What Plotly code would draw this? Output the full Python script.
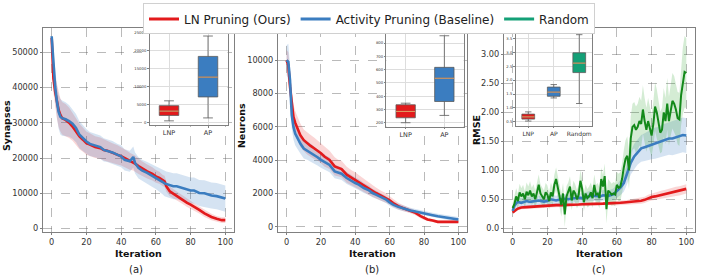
import plotly.graph_objects as go

W, H = 706, 278
FONT = "DejaVu Sans"

# ---------------- data ----------------
# (a) Synapses
a_iter = [0, 1, 2, 3, 4, 5, 6, 8, 10, 12, 14, 16, 18, 20, 22, 25, 28, 30, 32, 35, 38, 40, 42, 45, 47, 48,
          50, 52, 55, 58, 60, 62, 64, 65, 66, 68, 70, 72, 75, 78, 80, 82, 85, 88, 90, 92, 95, 98, 100]
a_ln = [54000, 42500, 38800, 36000, 33600, 32200, 31300, 30800, 30000, 28900, 27500, 26100, 25200, 24200,
        23800, 23100, 22800, 22300, 22100, 21400, 20900, 20500, 20000, 19100, 18800, 18400, 17700, 17000,
        16200, 15500, 14800, 14400, 13600, 13400, 12000, 10600, 9900, 9200, 8300, 7300, 6800, 6100, 5300,
        4300, 3800, 3300, 2800, 2400, 2400]
a_ln_sd = [1500, 4000, 4500, 4800, 4800, 4700, 4600, 4500, 4300, 4000, 3800, 3600, 3400, 3300, 3200, 3100,
           3000, 3000, 2900, 2800, 2700, 2600, 2500, 2400, 2300, 2300, 2200, 2100, 2000, 1900, 1800, 1700,
           1600, 1600, 1500, 1400, 1300, 1300, 1200, 1200, 1100, 1100, 1000, 1000, 900, 900, 800, 800, 800]
a_ap = [54500, 46800, 40200, 36000, 33100, 31700, 31300, 31000, 30500, 29700, 28500, 26600, 25600, 24700,
        24000, 23500, 23100, 22300, 22100, 21600, 20900, 20500, 19500, 19100, 20300, 18600, 17200, 16500,
        15800, 15000, 14500, 13900, 13200, 12800, 12600, 12300, 12000, 12000, 11500, 11100, 10800, 10800,
        10100, 10000, 9600, 9400, 9200, 8800, 8500]
a_ap_sd = [1000, 3000, 4000, 4500, 4800, 5000, 5000, 4800, 4500, 4200, 4000, 3800, 3600, 3500, 3400, 3300,
           3300, 3300, 3200, 3200, 3100, 3100, 3000, 3000, 3000, 3000, 3000, 3000, 3100, 3200, 3300, 3400,
           3500, 3600, 3600, 3700, 3700, 3700, 3700, 3700, 3700, 3700, 3700, 3700, 3700, 3700, 3700, 3700, 3700]

# (b) Neurons
b_iter = [0, 1, 2, 3, 4, 5, 6, 8, 10, 12, 14, 16, 18, 20, 22, 25, 28, 30, 32, 35, 38, 40, 42, 45, 48, 50,
          52, 55, 58, 60, 62, 65, 68, 70, 72, 75, 78, 80, 82, 85, 88, 90, 92, 95, 98, 100]
b_ln = [10000, 9700, 8400, 7300, 6600, 6250, 6000, 5500, 5200, 5000, 4860, 4720, 4580, 4420, 4220, 4020,
        3630, 3530, 3470, 3130, 2930, 2830, 2690, 2490, 2270, 2130, 2030, 1870, 1730, 1590, 1430, 1240,
        1120, 1040, 960, 840, 640, 520, 440, 380, 300, 300, 300, 300, 300, 300]
b_ln_sd = [600, 800, 800, 800, 750, 700, 700, 700, 650, 650, 650, 650, 600, 600, 600, 550, 550, 500, 500,
           480, 450, 450, 420, 400, 380, 350, 330, 300, 280, 250, 230, 200, 180, 160, 150, 140, 120, 110,
           100, 90, 80, 80, 80, 80, 80, 80]
b_ap = [10000, 9900, 8800, 6700, 6000, 5600, 5400, 5000, 4700, 4580, 4460, 4320, 4180, 4020, 3880, 3720,
        3330, 3270, 3190, 2930, 2730, 2630, 2530, 2330, 2190, 2030, 1930, 1790, 1630, 1470, 1330, 1200,
        1100, 1040, 980, 920, 840, 800, 760, 700, 640, 600, 560, 520, 480, 440]
b_ap_sd = [900, 1100, 900, 800, 750, 700, 650, 600, 600, 550, 550, 500, 500, 480, 460, 440, 420, 400, 380,
           360, 340, 330, 320, 300, 280, 260, 250, 230, 210, 200, 190, 180, 170, 160, 160, 150, 150, 150,
           150, 150, 150, 150, 150, 150, 150, 150]

# (c) RMSE
c_iter_s = [0, 1, 2, 3, 5, 8, 10, 12, 15, 18, 20, 22, 25, 28, 30, 32, 35, 38, 40, 42, 45, 48, 50, 52, 55,
            58, 60, 62, 64, 66, 68, 70, 72, 74, 76, 78, 80, 82, 84, 86, 88, 90, 92, 94, 96, 98, 100]
c_ln = [0.27, 0.30, 0.32, 0.34, 0.36, 0.365, 0.37, 0.37, 0.375, 0.38, 0.385, 0.39, 0.40, 0.40, 0.40, 0.405,
        0.41, 0.41, 0.415, 0.415, 0.415, 0.42, 0.425, 0.425, 0.43, 0.43, 0.435, 0.44, 0.445, 0.45, 0.46,
        0.465, 0.47, 0.475, 0.49, 0.52, 0.54, 0.55, 0.565, 0.58, 0.595, 0.61, 0.62, 0.635, 0.645, 0.66, 0.68]
c_ln_sd = [0.02, 0.03, 0.03, 0.03, 0.03, 0.03, 0.03, 0.03, 0.03, 0.03, 0.03, 0.03, 0.03, 0.03, 0.03, 0.03,
           0.03, 0.03, 0.03, 0.03, 0.03, 0.03, 0.03, 0.03, 0.03, 0.035, 0.035, 0.035, 0.04, 0.04, 0.04, 0.045,
           0.05, 0.05, 0.055, 0.06, 0.06, 0.065, 0.065, 0.07, 0.07, 0.075, 0.075, 0.08, 0.08, 0.08, 0.08]
c_ap = [0.30, 0.39, 0.43, 0.455, 0.44, 0.47, 0.455, 0.47, 0.48, 0.46, 0.47, 0.50, 0.48, 0.50, 0.51, 0.50,
        0.52, 0.53, 0.52, 0.54, 0.56, 0.56, 0.545, 0.57, 0.56, 0.585, 0.64, 0.70, 0.78, 0.95, 1.13, 1.24,
        1.32, 1.38, 1.40, 1.42, 1.45, 1.47, 1.48, 1.51, 1.53, 1.55, 1.55, 1.57, 1.59, 1.61, 1.60]
c_ap_sd = [0.04, 0.07, 0.08, 0.08, 0.08, 0.08, 0.08, 0.08, 0.08, 0.08, 0.08, 0.08, 0.08, 0.08, 0.08, 0.08,
           0.08, 0.08, 0.08, 0.08, 0.09, 0.09, 0.09, 0.09, 0.09, 0.10, 0.11, 0.13, 0.15, 0.18, 0.20, 0.22,
           0.22, 0.23, 0.24, 0.25, 0.26, 0.27, 0.27, 0.28, 0.28, 0.28, 0.29, 0.29, 0.30, 0.30, 0.30]
c_iter = list(range(0, 101))
c_rand = [0.35, 0.42, 0.55, 0.47, 0.62, 0.55, 0.60, 0.50, 0.63, 0.57,
          0.65, 0.55, 0.60, 0.50, 0.62, 0.75, 0.60, 0.55, 0.50, 0.62,
          0.58, 0.47, 0.62, 0.55, 0.75, 0.85, 0.70, 0.55, 0.40, 0.60,
          0.24, 0.55, 0.62, 0.72, 0.48, 0.65, 0.60, 0.50, 0.58, 0.82,
          0.68, 0.45, 0.60, 0.52, 0.55, 0.62, 0.52, 0.75, 0.58, 0.60,
          0.52, 0.85, 0.72, 0.90, 0.33, 0.65, 0.62, 0.58, 0.60, 0.58,
          0.75, 0.70, 0.72, 0.85, 1.05, 1.20, 1.25, 1.00, 1.55, 1.75,
          1.78, 1.70, 1.75, 1.85, 1.80, 2.05, 1.85, 1.70, 1.85, 1.72,
          1.60, 1.80, 2.10, 2.00, 1.80, 1.65, 1.70, 2.00, 1.85, 2.15,
          1.85, 2.05, 2.20, 2.15, 2.05, 1.90, 1.88, 2.30, 2.55, 2.70, 2.68]
c_rand_sd = [0.08, 0.12, 0.14, 0.13, 0.15, 0.14, 0.15, 0.14, 0.16, 0.15,
             0.16, 0.15, 0.16, 0.15, 0.17, 0.18, 0.16, 0.15, 0.15, 0.16,
             0.16, 0.15, 0.17, 0.16, 0.18, 0.20, 0.18, 0.17, 0.20, 0.18,
             0.22, 0.18, 0.17, 0.18, 0.17, 0.17, 0.16, 0.16, 0.17, 0.18,
             0.17, 0.16, 0.16, 0.16, 0.17, 0.17, 0.17, 0.18, 0.17, 0.18,
             0.18, 0.20, 0.20, 0.22, 0.25, 0.20, 0.19, 0.19, 0.20, 0.20,
             0.22, 0.24, 0.25, 0.27, 0.30, 0.32, 0.34, 0.33, 0.38, 0.40,
             0.40, 0.40, 0.40, 0.42, 0.40, 0.42, 0.40, 0.38, 0.40, 0.38,
             0.36, 0.38, 0.42, 0.40, 0.38, 0.36, 0.38, 0.42, 0.40, 0.45,
             0.42, 0.45, 0.48, 0.48, 0.46, 0.45, 0.46, 0.52, 0.58, 0.62, 0.60]

# inset box statistics
a_box_names = ["LNP", "AP"]
a_box_lo = [460, 1280]
a_box_q1 = [1980, 7150]
a_box_med = [3180, 12690]
a_box_q3 = [4700, 18480]
a_box_hi = [6060, 24180]

b_box_names = ["LNP", "AP"]
b_box_lo = [200, 255]
b_box_q1 = [237, 360]
b_box_med = [285, 535]
b_box_q3 = [335, 617]
b_box_hi = [347, 855]

c_box_names = ["LNP", "AP", "Random"]
c_box_lo = [0.53, 1.36, 1.16]
c_box_q1 = [0.60, 1.42, 2.27]
c_box_med = [0.68, 1.57, 2.61]
c_box_q3 = [0.78, 1.75, 2.98]
c_box_hi = [0.86, 1.84, 3.63]

# ---------------- styles ----------------
RED = "#e31a1c"
BLUE = "#3b7dc0"
GREEN_LINE = "#13891a"
TEAL = "#14a077"
RED_BAND = "rgba(227,26,28,0.18)"
BLUE_BAND = "rgba(59,125,192,0.21)"
GREEN_BAND = "rgba(40,160,40,0.20)"

fig = go.Figure()


def band(x, m, sd, color, xa, ya):
    up = [v + s for v, s in zip(m, sd)]
    lo = [v - s for v, s in zip(m, sd)]
    fig.add_trace(go.Scatter(x=list(x) + list(x)[::-1], y=up + lo[::-1], fill="toself",
                             fillcolor=color, line=dict(width=0), mode="lines",
                             hoverinfo="skip", showlegend=False, xaxis=xa, yaxis=ya))


def line(x, y, color, xa, ya, width=2.6):
    fig.add_trace(go.Scatter(x=x, y=y, mode="lines", line=dict(color=color, width=width),
                             showlegend=False, xaxis=xa, yaxis=ya))


# (a)
band(a_iter, a_ln, a_ln_sd, RED_BAND, "x", "y")
band(a_iter, a_ap, a_ap_sd, BLUE_BAND, "x", "y")
line(a_iter, a_ln, RED, "x", "y")
line(a_iter, a_ap, BLUE, "x", "y")
# (b)
band(b_iter, b_ln, b_ln_sd, RED_BAND, "x2", "y2")
band(b_iter, b_ap, b_ap_sd, BLUE_BAND, "x2", "y2")
line(b_iter, b_ln, RED, "x2", "y2")
line(b_iter, b_ap, BLUE, "x2", "y2")
# (c)
band(c_iter_s, c_ln, c_ln_sd, RED_BAND, "x3", "y3")
band(c_iter_s, c_ap, c_ap_sd, BLUE_BAND, "x3", "y3")
band(c_iter, c_rand, c_rand_sd, GREEN_BAND, "x3", "y3")
line(c_iter_s, c_ln, RED, "x3", "y3")
line(c_iter_s, c_ap, BLUE, "x3", "y3")
line(c_iter, c_rand, GREEN_LINE, "x3", "y3", width=2.0)

# legend entries
for nm, col in [("LN Pruning (Ours)", RED), ("Activity Pruning (Baseline)", BLUE), ("Random", TEAL)]:
    fig.add_trace(go.Scatter(x=[None], y=[None], mode="lines", name=nm,
                             line=dict(color=col, width=3), xaxis="x", yaxis="y"))


def boxes(names, lo, q1, med, q3, hi, colors, xa, ya):
    for i, nm in enumerate(names):
        p = i + 1
        fig.add_trace(go.Box(x=[p], lowerfence=[lo[i]], q1=[q1[i]], median=[med[i]], q3=[q3[i]],
                             upperfence=[hi[i]], width=0.5, whiskerwidth=0.5, fillcolor=colors[i],
                             line=dict(color="#5a5a5a", width=0.8), boxpoints=False,
                             showlegend=False, xaxis=xa, yaxis=ya, hoverinfo="skip"))
        fig.add_trace(go.Scatter(x=[p - 0.25, p + 0.25], y=[med[i], med[i]], mode="lines",
                                 line=dict(color="#e7a062", width=1), showlegend=False,
                                 xaxis=xa, yaxis=ya, hoverinfo="skip"))


boxes(a_box_names, a_box_lo, a_box_q1, a_box_med, a_box_q3, a_box_hi, [RED, BLUE], "x4", "y4")
boxes(b_box_names, b_box_lo, b_box_q1, b_box_med, b_box_q3, b_box_hi, [RED, BLUE], "x5", "y5")
boxes(c_box_names, c_box_lo, c_box_q1, c_box_med, c_box_q3, c_box_hi, [RED, BLUE, TEAL], "x6", "y6")

# ---------------- layout ----------------
def px_x(a, b):
    return [a / W, b / W]


def px_y(top, bottom):
    return [1 - bottom / H, 1 - top / H]


MAIN_Y = px_y(27, 233)
main_common = dict(showline=True, linecolor="#808080", linewidth=1.2, mirror=True, ticks="outside",
                   ticklen=2, tickcolor="#808080", tickfont=dict(size=8.2, color="#333333", family=FONT),
                   showgrid=True, gridcolor="rgba(90,90,90,0.42)", griddash="dash", gridwidth=0.8,
                   zeroline=False)
inset_common = dict(showline=True, linecolor="#808080", linewidth=0.8, mirror=True, ticks="outside",
                    ticklen=1.5, tickcolor="#808080", showgrid=True, gridcolor="#dddddd",
                    gridwidth=0.6, zeroline=False)
tiny = dict(size=3.8, color="#333333", family=FONT)
small = dict(size=6.5, color="#333333", family=FONT)

xt = [0, 20, 40, 60, 80, 100]
fig.update_layout(
    width=W, height=H, margin=dict(l=0, r=0, t=0, b=0),
    paper_bgcolor="white", plot_bgcolor="white",
    font=dict(family=FONT, color="#333333"),
    xaxis=dict(domain=px_x(43, 234), range=[-5, 105], tickvals=xt, anchor="y", **main_common),
    yaxis=dict(domain=MAIN_Y, range=[-1050, 56900], tickvals=[0, 10000, 20000, 30000, 40000, 50000],
               tickformat="d", anchor="x", **main_common),
    xaxis2=dict(domain=px_x(278, 467), range=[-5, 105], tickvals=xt, anchor="y2", **main_common),
    yaxis2=dict(domain=MAIN_Y, range=[-330, 11950], tickvals=[0, 2000, 4000, 6000, 8000, 10000],
                tickformat="d", anchor="x2", **main_common),
    xaxis3=dict(domain=px_x(504, 695), range=[-5, 105], tickvals=xt, anchor="y3", **main_common),
    yaxis3=dict(domain=MAIN_Y, range=[-0.07, 3.46], tickvals=[0, 0.5, 1, 1.5, 2, 2.5, 3],
                ticktext=["0.0", "0.50", "1.00", "1.50", "2.00", "2.50", "3.00"], anchor="x3",
                **main_common),
    xaxis4=dict(domain=px_x(149.5, 227.5), range=[0.5, 2.5], tickvals=[1, 2], ticktext=a_box_names,
                tickfont=small, anchor="y4", **inset_common),
    yaxis4=dict(domain=px_y(31, 125), range=[-730, 25370], tickvals=[0, 5000, 10000, 15000, 20000, 25000],
                tickformat="d", tickfont=tiny, anchor="x4", **inset_common),
    xaxis5=dict(domain=px_x(386.3, 463.7), range=[0.5, 2.5], tickvals=[1, 2], ticktext=b_box_names,
                tickfont=small, anchor="y5", **inset_common),
    yaxis5=dict(domain=px_y(30.6, 127), range=[167, 888], tickvals=[200, 300, 400, 500, 600, 700, 800],
                tickformat="d", tickfont=tiny, anchor="x5", **inset_common),
    xaxis6=dict(domain=px_x(515.5, 592), range=[0.5, 3.5], tickvals=[1, 2, 3], ticktext=c_box_names,
                tickfont=dict(size=6.0, color="#333333", family=FONT), anchor="y6", **inset_common),
    yaxis6=dict(domain=px_y(30, 126), range=[0.35, 3.77], tickvals=[0.5, 1.0, 1.5, 2.0, 2.5, 3.0, 3.5],
                tickformat=".1f", tickfont=tiny, anchor="x6", **inset_common),
    legend=dict(orientation="h", x=143 / W, xanchor="left", y=1 - 2.5 / H, yanchor="top",
                font=dict(size=12, family=FONT, color="#222222"), bgcolor="white",
                bordercolor="#d0d0d0", borderwidth=1, tracegroupgap=0),
)

ann = []
ann.append(dict(text="<b>Synapses</b>", x=6 / W, y=1 - 126 / H, textangle=-90))
ann.append(dict(text="<b>Neurons</b>", x=241 / W, y=1 - 125 / H, textangle=-90))
ann.append(dict(text="<b>RMSE</b>", x=476 / W, y=1 - 130 / H, textangle=-90))
for cx in [(43 + 234) / 2, (278 + 467) / 2, (504 + 695) / 2]:
    ann.append(dict(text="<b>Iteration</b>", x=cx / W, y=1 - 254 / H))
for cx, cap in zip([136, 372, 598], ["(a)", "(b)", "(c)"]):
    ann.append(dict(text=cap, x=cx / W, y=1 - 270.5 / H, font=dict(size=10, family=FONT, color="#222222")))
for a in ann:
    a.setdefault("font", dict(size=9.5, family=FONT, color="#111111"))
    fig.add_annotation(xref="paper", yref="paper", showarrow=False, xanchor="center", yanchor="middle", **a)

fig.write_html("out.html", config={"displayModeBar": False},
               post_script="document.body.style.margin='0';document.body.style.padding='0';")
